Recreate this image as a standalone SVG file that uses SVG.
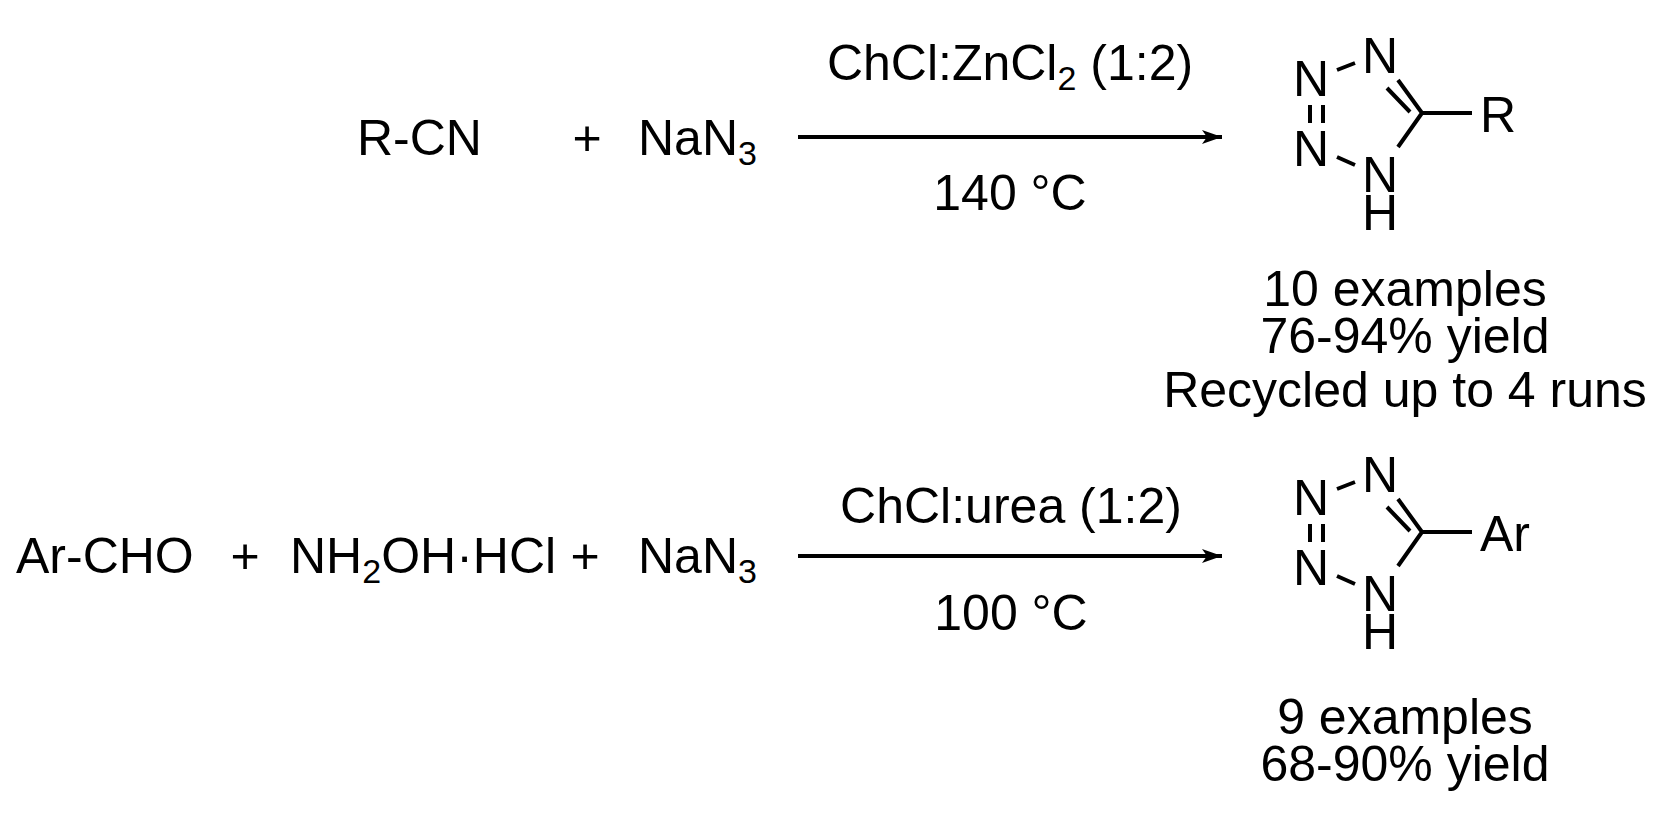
<svg xmlns="http://www.w3.org/2000/svg" width="1670" height="813" viewBox="0 0 1670 813">
<defs>
<style>
text{font-family:"Liberation Sans",Arial,sans-serif;font-size:50px;fill:#000}
.m{text-anchor:middle}
.b{stroke:#000;stroke-width:4;fill:none}
.s{font-size:34px}
</style>
<marker id="ah" viewBox="0 0 20 14" refX="20" refY="7" markerWidth="20" markerHeight="14" markerUnits="userSpaceOnUse" orient="auto"><path d="M0,0 L20,7 L0,14 L5,7 Z" fill="#000"/></marker>
<g id="tz">
<text class="m" x="1311" y="96">N</text>
<text class="m" x="1380" y="73">N</text>
<text class="m" x="1311" y="166">N</text>
<text class="m" x="1380" y="192">N</text>
<text class="m" x="1380" y="230">H</text>
<path class="b" d="M1337,70 L1355,63 M1310,105 V123 M1323,105 V123 M1337,157 L1355,165 M1398,80 L1422,113 M1387,88 L1410,112 M1422,113 L1398,147 M1422,113 H1472"/>
</g>
</defs>
<g id="connectors">
<line class="b" x1="798" y1="137" x2="1222" y2="137" marker-end="url(#ah)"/>
<line class="b" x1="798" y1="556" x2="1222" y2="556" marker-end="url(#ah)"/>
</g>
<g id="reaction1">
<text x="357" y="155">R-CN</text>
<text class="m" x="587" y="155">+</text>
<text x="638" y="155">NaN<tspan class="s" dy="10">3</tspan></text>
<text class="m" x="1010" y="80">ChCl:ZnCl<tspan class="s" dy="10">2</tspan><tspan dy="-10"> (1:2)</tspan></text>
<text class="m" x="1010" y="210">140 °C</text>
</g>
<g id="product1">
<use href="#tz"/>
<text x="1480" y="132">R</text>
<text class="m" x="1405" y="306">10 examples</text>
<text class="m" x="1405" y="353">76-94% yield</text>
<text class="m" x="1405" y="407">Recycled up to 4 runs</text>
</g>
<g id="reaction2">
<text x="16" y="573">Ar-CHO</text>
<text class="m" x="245" y="573">+</text>
<text x="290" y="573">NH<tspan class="s" dy="10">2</tspan><tspan dy="-10">OH·HCl</tspan></text>
<text class="m" x="585" y="573">+</text>
<text x="638" y="573">NaN<tspan class="s" dy="10">3</tspan></text>
<text class="m" x="1011" y="523">ChCl:urea (1:2)</text>
<text class="m" x="1011" y="630">100 °C</text>
</g>
<g id="product2">
<use href="#tz" y="419"/>
<text x="1480" y="551">Ar</text>
<text class="m" x="1405" y="734">9 examples</text>
<text class="m" x="1405" y="781">68-90% yield</text>
</g>
</svg>
